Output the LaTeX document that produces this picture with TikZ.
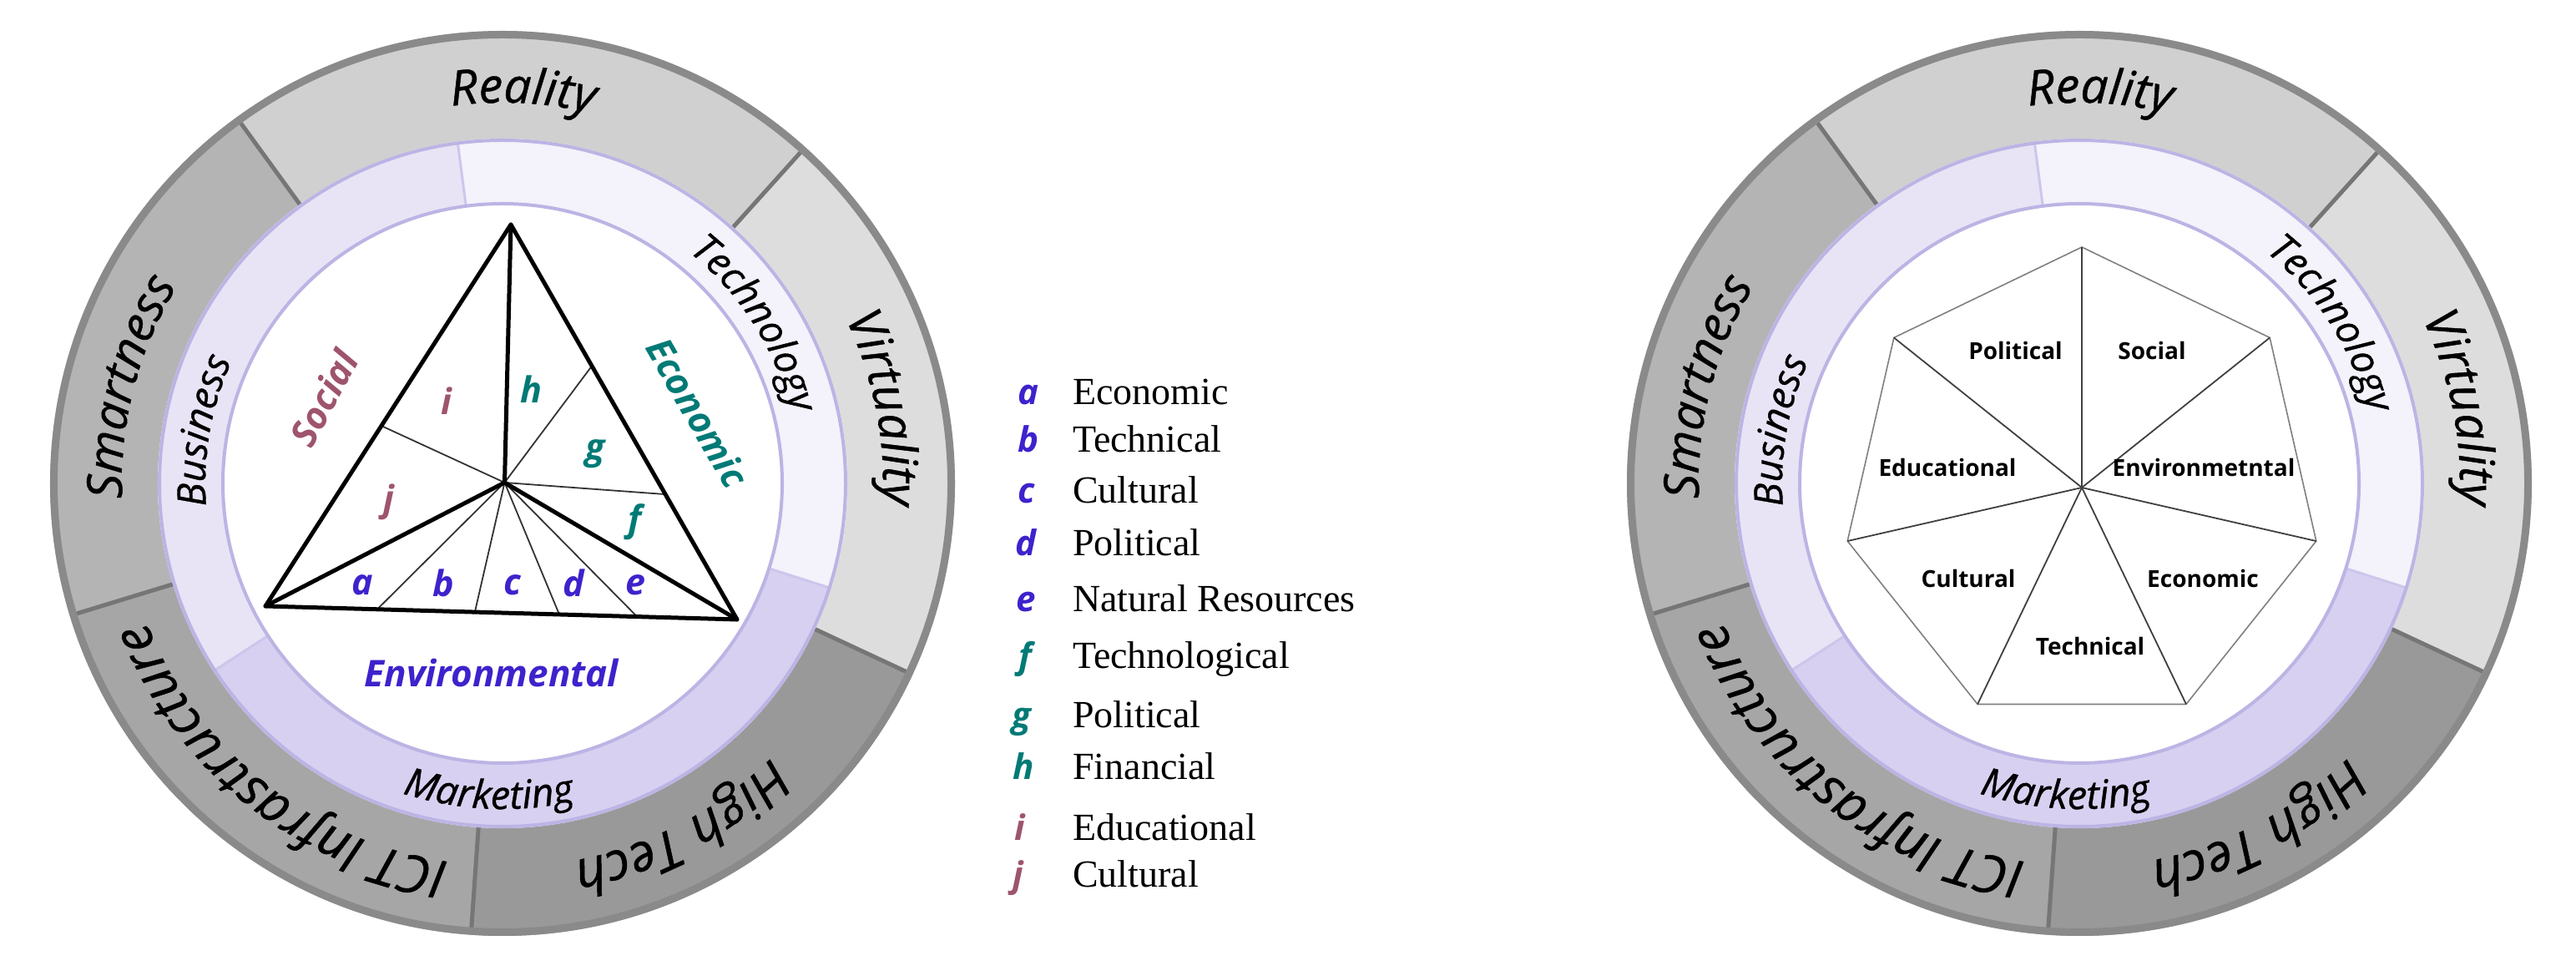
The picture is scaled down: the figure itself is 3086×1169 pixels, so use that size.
\documentclass[tikz,border=0pt]{standalone}
\usepackage{fontspec}
\usetikzlibrary{decorations.text,calc}
\newfontfamily\osans{Open Sans}
\newfontfamily\osansfb[FakeBold=0.8]{Open Sans}
\newfontfamily\tserif{Liberation Serif}
\newcommand\outerfont{\osansfb\itshape\fontsize{58}{64}\selectfont}
\newcommand\outerfontb{\osansfb\itshape\fontsize{63}{70}\selectfont}
\newcommand\innerfont{\osansfb\itshape\fontsize{47}{52}\selectfont}
\definecolor{envblue}{RGB}{62,34,204}
\definecolor{ecoteal}{RGB}{0,122,118}
\definecolor{socmauve}{RGB}{158,84,108}
\definecolor{cReal}{RGB}{208,208,208}
\definecolor{cVirt}{RGB}{221,221,221}
\definecolor{cSmart}{RGB}{180,180,180}
\definecolor{cICT}{RGB}{166,166,166}
\definecolor{cHigh}{RGB}{153,153,153}
\definecolor{cRim}{RGB}{138,138,138}
\definecolor{cSep}{RGB}{118,118,118}
\definecolor{cBus}{RGB}{232,228,245}
\definecolor{cTech}{RGB}{244,242,250}
\definecolor{cMark}{RGB}{216,208,240}
\definecolor{cPb}{RGB}{188,180,228}
\definecolor{cPsep}{RGB}{205,198,236}
\newcommand\ringseg[5]{\fill[#1] (#2:#4) arc[start angle=#2, end angle=#3, radius=#4] -- (#3:#5) arc[start angle=#3, end angle=#2, radius=#5] -- cycle;}
\newcommand\cwtext[4]{\path[decorate, decoration={text along path, text align=center, text={|#1|#2}}] ({#3+70}:#4) arc[start angle={#3+70}, end angle={#3-70}, radius=#4];}
\newcommand\drawrings{%
  \ringseg{cReal}{48}{126}{542}{413}
  \ringseg{cSmart}{126}{197}{542}{413}
  \ringseg{cICT}{197}{266}{542}{413}
  \ringseg{cHigh}{266}{335}{542}{413}
  \ringseg{cVirt}{-25}{48}{542}{413}
  \foreach \a in {48,126,197,266,335} \draw[cSep, line width=5pt] (\a:413) -- (\a:538);
  \draw[cRim, line width=9pt] (0,0) circle[radius=537.5];
  \ringseg{cTech}{-17.7}{97.5}{413}{334}
  \ringseg{cBus}{97.5}{213}{413}{334}
  \ringseg{cMark}{213}{342.3}{413}{334}
  \foreach \a in {97.5,213,342.3} \draw[cPsep, line width=3pt] (\a:334) -- (\a:413);
  \fill[white] (0,0) circle[radius=334];
  \draw[cPb, line width=4pt] (0,0) circle[radius=411];
  \draw[cPb, line width=4pt] (0,0) circle[radius=335];
  \cwtext{\outerfont}{Reality}{87}{456}
  \cwtext{\outerfont}{Smartness}{165.5}{456}
  \cwtext{\outerfont}{Virtuality}{11.2}{456}
  \cwtext{\outerfontb}{High Tech}{-62.5}{460}
  \cwtext{\outerfontb}{ICT Infrastructure}{231.5}{458}
  \cwtext{\innerfont}{Business}{170}{356}
  \cwtext{\innerfont}{Technology}{32.4}{356}
  \path[decorate, decoration={text along path, text align=center, text={|\innerfont|Marketing}}] (-152.5:390) arc[start angle=-152.5, end angle=-32.5, radius=390];
}
\tikzset{
  thickln/.style={line width=5pt, black, line join=round, line cap=round},
  thinln/.style={line width=1.8pt, black!80},
  tlab/.style={font=\osans\bfseries\itshape\fontsize{43}{46}\selectfont, inner sep=0pt},
  dimlab/.style={font=\osans\bfseries\itshape\fontsize{44}{48}\selectfont, inner sep=0pt},
  hept/.style={font=\osans\bfseries\fontsize{28}{32}\selectfont, inner sep=0pt},
  legl/.style={font=\osans\bfseries\itshape\fontsize{42}{46}\selectfont, inner sep=0pt, anchor=base},
  legt/.style={font=\tserif\fontsize{46}{50}\selectfont, inner sep=0pt, anchor=base west},
  heptedge/.style={line width=1.6pt, black!50},
  spoke/.style={line width=1.8pt, black!75}
}
\begin{document}
\begin{tikzpicture}[x=1pt,y=1pt]
\useasboundingbox (0,0) rectangle (3086,1169);
\fill[white] (0,0) rectangle (3086,1169);
% ---------- left wheel ----------
\begin{scope}[shift={(602,590)}]
\drawrings
\end{scope}
\coordinate (A) at (612,900);
\coordinate (BL) at (318,443);
\coordinate (BR) at (883,427);
\coordinate (O) at (604.5,591);
\coordinate (pab) at ($(BL)!0.237!(BR)$);
\coordinate (pbc) at ($(BL)!0.444!(BR)$);
\coordinate (pcd) at ($(BL)!0.623!(BR)$);
\coordinate (pde) at ($(BL)!0.788!(BR)$);
\coordinate (pij) at ($(BL)!0.4725!(A)$);
\coordinate (phg) at ($(A)!0.358!(BR)$);
\coordinate (pgf) at ($(A)!0.683!(BR)$);
\foreach \p in {pab,pbc,pcd,pde,pij,phg,pgf} \draw[thinln] (O) -- (\p);
\draw[thickln] (A) -- (BL) -- (BR) -- cycle;
\draw[thickln] (O) -- (A);
\draw[thickln] (O) -- (BL);
\draw[thickln] (O) -- (BR);
\node[tlab, text=envblue] (la1) at (434,468) {a};
\node[tlab, text=envblue] (lb1) at (531,471) {b};
\node[tlab, text=envblue] (lc1) at (614,468) {c};
\node[tlab, text=envblue] (ld1) at (687.5,471) {d};
\node[tlab, text=envblue] (le1) at (761,468) {e};
\node[tlab, text=ecoteal] (lf1) at (761,544) {f};
\node[tlab, text=ecoteal] (lg1) at (713,625) {g};
\node[tlab, text=ecoteal] (lh1) at (636,703) {h};
\node[tlab, text=socmauve] (li1) at (535,689) {i};
\node[tlab, text=socmauve] (lj1) at (466,568) {j};
\node[dimlab, text=socmauve, rotate=62] (soc) at (388,692) {Social};
\node[dimlab, text=ecoteal, rotate=-60] (eco) at (836,675) {Economic};
\node[dimlab, text=envblue] (env) at (589,363) {Environmental};
% ---------- legend ----------
\node[legl, text=envblue] (ka) at (1232,684) {a};
\node[legt] (ta) at (1285,684) {Economic};
\node[legl, text=envblue] (kb) at (1232,627) {b};
\node[legt] (tb) at (1285,627) {Technical};
\node[legl, text=envblue] (kc) at (1230,566) {c};
\node[legt] (tc) at (1285,566) {Cultural};
\node[legl, text=envblue] (kd) at (1229,503) {d};
\node[legt] (td) at (1285,503) {Political};
\node[legl, text=envblue] (ke) at (1229,436) {e};
\node[legt] (te) at (1285,436) {Natural Resources};
\node[legl, text=ecoteal] (kf) at (1228,368) {f};
\node[legt] (tf) at (1285,368) {Technological};
\node[legl, text=ecoteal] (kg) at (1224,297) {g};
\node[legt] (tg) at (1285,297) {Political};
\node[legl, text=ecoteal] (kh) at (1226,235) {h};
\node[legt] (th) at (1285,235) {Financial};
\node[legl, text=socmauve] (ki) at (1222,162) {i};
\node[legt] (ti) at (1285,162) {Educational};
\node[legl, text=socmauve] (kj) at (1220,106) {j};
\node[legt] (tj) at (1285,106) {Cultural};
% ---------- right wheel ----------
\begin{scope}[shift={(2491,590)}]
\drawrings
\end{scope}
\coordinate (H) at (2494,585);
\foreach \k in {0,...,6} \coordinate (v\k) at ($(H)+({90+360/7*\k}:288)$);
\draw[heptedge] (v0) -- (v1) -- (v2) -- (v3) -- (v4) -- (v5) -- (v6) -- cycle;
\foreach \k in {0,...,6} \draw[spoke] (H) -- (v\k);
\node[hept] (hpol) at (2414.5,748.5) {Political};
\node[hept] (hsoc) at (2578,748.5) {Social};
\node[hept] (hedu) at (2333,609) {Educational};
\node[hept] (henv) at (2640,609) {Environmetntal};
\node[hept] (hcul) at (2358,476) {Cultural};
\node[hept] (heco) at (2639,476) {Economic};
\node[hept] (htec) at (2504,395) {Technical};
\end{tikzpicture}
\end{document}
